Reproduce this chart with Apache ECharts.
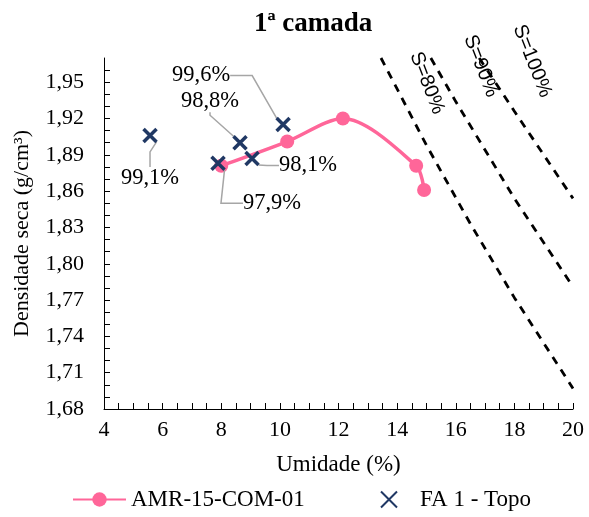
<!DOCTYPE html>
<html><head><meta charset="utf-8">
<script src="https://cdn.jsdelivr.net/npm/echarts@6/dist/echarts.min.js"></script>
<style>html,body{margin:0;padding:0;background:#fff}#c{width:589px;height:517px}</style>
</head><body><div id="c"></div>
<script>
// ---- data ----
const amrMoisture = [8.0, 10.25, 12.15, 14.65, 14.92];
const amrDensity  = [1.881, 1.901, 1.920, 1.881, 1.861];
const topoMoisture = [5.57, 7.89, 8.64, 9.05, 10.11];
const topoDensity  = [1.906, 1.883, 1.900, 1.887, 1.915];
const topoLabels   = ['99,1%', '97,9%', '98,8%', '98,1%', '99,6%'];
const s80Moisture  = [13.45, 15, 16.5, 18, 20];
const s80Density   = [1.97, 1.898, 1.833, 1.772, 1.697];
const s90Moisture  = [15.15, 16, 18, 20];
const s90Density   = [1.97, 1.934, 1.854, 1.781];
const s100Moisture = [16.8, 18, 20];
const s100Density  = [1.97, 1.926, 1.854];
const satNames = ['S=80%', 'S=90%', 'S=100%'];
const seriesNames = ['AMR-15-COM-01', 'FA 1 - Topo'];
const yMin = 1.68, yMax = 1.97, xMin = 4, xMax = 20;

// ---- layout/style ----
const SERIF = 'Liberation Serif';
const topoLabelShift = [[0, 43], [54, 40], [-30, -42], [56, 7], [-82, -49]];
const topoLeaderLen = [15, 22, 3, 12, 22];
const satLabelShift = [[46, 25], [50, 8], [53, 3]];

const zip = (a, b) => a.map((v, i) => [v, b[i]]);
const satSets = [[s80Moisture, s80Density], [s90Moisture, s90Density], [s100Moisture, s100Density]];

const satSeries = satSets.map((s, i) => ({
  name: satNames[i], type: 'line', data: zip(s[0], s[1]), smooth: false,
  symbol: 'none', silent: true, z: 1,
  lineStyle: { color: '#000', width: 2.8, type: [8, 7] }
}));

const topoData = topoMoisture.map((x, i) => ({
  value: [x, topoDensity[i]],
  labelLine: { length2: topoLeaderLen[i] }
}));

const option = {
  animation: false,
  backgroundColor: '#fff',
  title: { text: '1ª camada', left: 249, top: 6,
    textStyle: { fontFamily: SERIF, fontSize: 27, fontWeight: 'bold', color: '#000' } },
  grid: { left: 104, right: 16, top: 58, bottom: 108, containLabel: false, outerBoundsMode: 'none' },
  legend: [
    { data: [seriesNames[0]], left: 72, top: 488, padding: 0, itemWidth: 53, itemHeight: 18, itemGap: 0,
      textStyle: { fontFamily: SERIF, fontSize: 23, color: '#000' } },
    { data: [seriesNames[1]], left: 380, top: 488, padding: 0, itemWidth: 16, itemHeight: 16, itemGap: 0,
      textStyle: { fontFamily: SERIF, fontSize: 23, color: '#000', padding: [0, 0, 0, 18] } }
  ],
  xAxis: {
    type: 'value', min: xMin, max: xMax, interval: 2,
    name: 'Umidade (%)', nameLocation: 'middle', nameGap: 44,
    nameTextStyle: { fontFamily: SERIF, fontSize: 23, color: '#000' },
    axisLine: { show: true, lineStyle: { color: '#000', width: 1 } },
    axisTick: { show: true, inside: true, length: 6, lineStyle: { color: '#000' } },
    minorTick: { show: true, splitNumber: 4, length: 6, lineStyle: { color: '#000' } },
    splitLine: { show: false }, minorSplitLine: { show: false },
    axisLabel: { fontFamily: SERIF, fontSize: 22, color: '#000', margin: 10,
      formatter: v => String(v) }
  },
  yAxis: {
    type: 'value', min: yMin, max: yMax, interval: 0.01,
    name: 'Densidade seca (g/cm³)', nameLocation: 'middle', nameGap: 71, nameRotate: 90,
    nameTextStyle: { fontFamily: SERIF, fontSize: 22, color: '#000' },
    axisLine: { show: true, lineStyle: { color: '#000', width: 1 } },
    axisTick: { show: true, inside: true, length: 6, lineStyle: { color: '#000' } },
    splitLine: { show: false },
    axisLabel: { fontFamily: SERIF, fontSize: 22, color: '#000', margin: 20,
      showMaxLabel: false,
      formatter: v => { const k = Math.round((v - yMin) * 100); return k % 3 ? '' : v.toFixed(2).replace('.', ','); } }
  },
  series: [
    ...satSeries,
    { name: seriesNames[0], type: 'line', data: zip(amrMoisture, amrDensity), smooth: 0.3, z: 3,
      symbol: 'circle', symbolSize: 14,
      lineStyle: { color: '#FF6699', width: 3.5 }, itemStyle: { color: '#FF6699' } },
    { name: seriesNames[1], type: 'scatter', data: topoData, z: 5,
      symbol: 'path://M0,0L10,10M10,0L0,10', symbolSize: 13,
      itemStyle: { color: 'rgba(0,0,0,0)', borderColor: '#203864', borderWidth: 3.5, opacity: 1 },
      label: { show: true, position: 'inside', color: '#000', fontFamily: SERIF, fontSize: 22.5,
        padding: [2, 3], formatter: p => topoLabels[p.dataIndex] },
      labelLine: { show: true, length2: 15, lineStyle: { color: '#A6A6A6', width: 1.5 } },
      labelLayout: p => ({ dx: topoLabelShift[p.dataIndex][0], dy: topoLabelShift[p.dataIndex][1] }) }
  ]
};

const chart = echarts.init(document.getElementById('c'), null, { renderer: 'canvas' });
chart.setOption(option);
const satGraphics = satSets.map((s, i) => {
  const p = chart.convertToPixel({ gridIndex: 0 }, [s[0][0], s[1][0]]);
  return { type: 'text', x: p[0] + satLabelShift[i][0], y: p[1] + satLabelShift[i][1], rotation: -1.2, z: 10,
    style: { text: satNames[i], fontFamily: 'Liberation Sans', fontSize: 20, fill: '#000',
      align: 'center', verticalAlign: 'middle' } };
});
chart.setOption({ graphic: satGraphics });
</script>
</body></html>
